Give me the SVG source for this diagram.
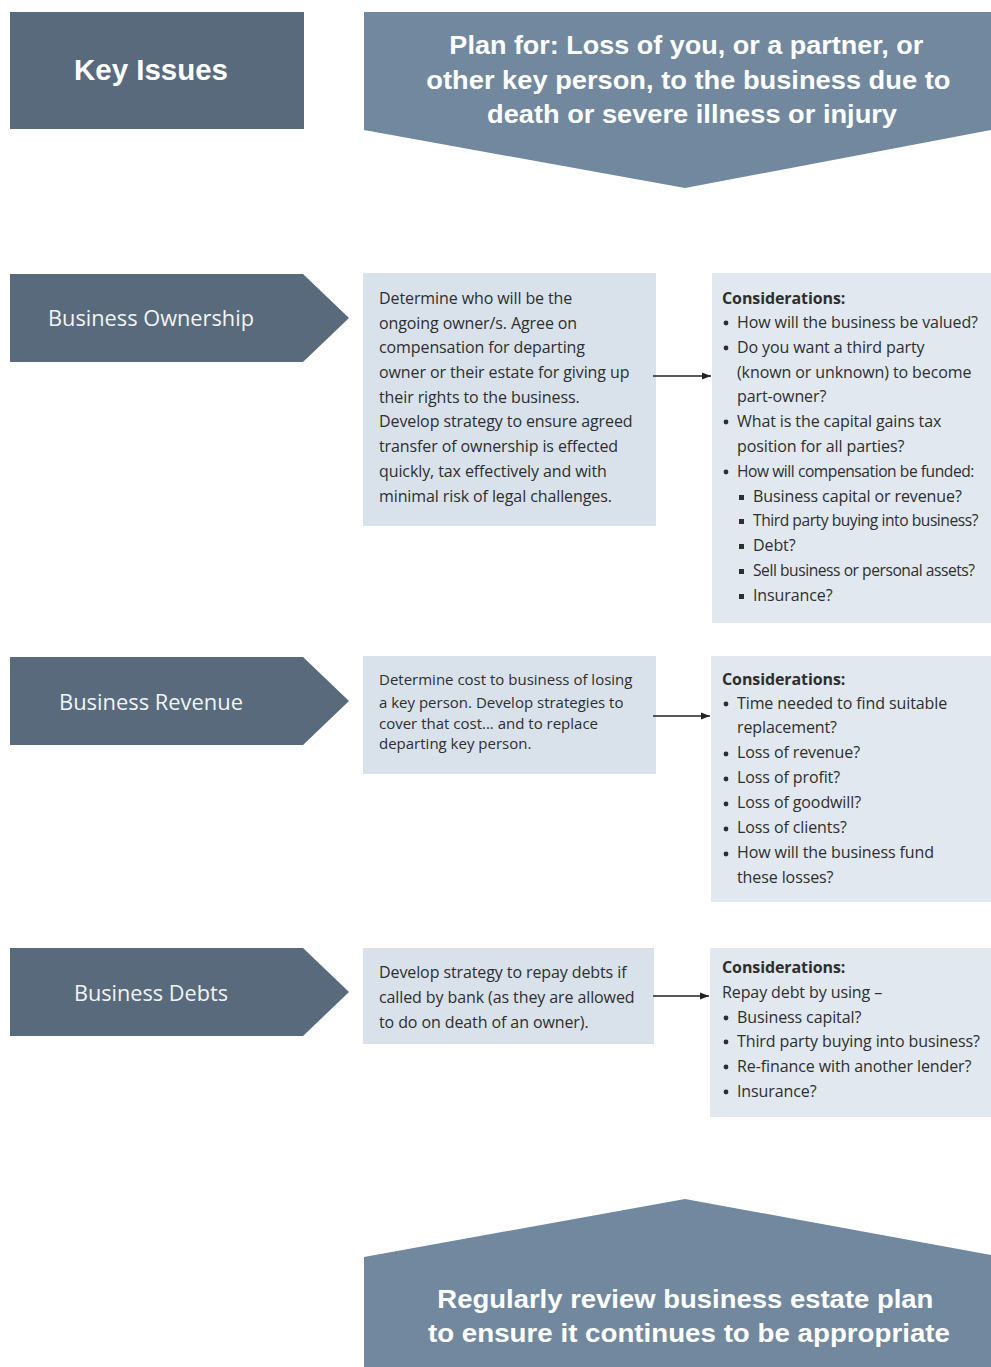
<svg xmlns="http://www.w3.org/2000/svg" width="991" height="1367" viewBox="0 0 991 1367">
  <defs>
    <style>
      .dark { fill: #586a7b; }
      .mid { fill: #72889f; }
      .desc { fill: #d9e2eb; }
      .cons { fill: #e1e8ef; }
      .hd { font-family: "Liberation Sans", "DejaVu Sans", sans-serif; font-weight: bold; fill: #ffffff; text-anchor: middle; }
      .lbl { font-family: "Open Sans", "Liberation Sans", sans-serif; fill: #f2f4f6; font-size: 22px; text-anchor: middle; }
      .body { font-family: "Open Sans", "Liberation Sans", sans-serif; fill: #2e2e2e; font-size: 16px; letter-spacing: -0.1px; }
      .tight { font-size: 15px; letter-spacing: 0; }
      .narrow { font-size: 15.6px; letter-spacing: -0.45px; }
      .bold { font-weight: bold; }
      .dot { fill: #2e2e2e; }
      .conn { stroke: #222222; stroke-width: 1.3; fill: none; marker-end: url(#head); }
    </style>
    <marker id="head" viewBox="0 0 10 10" refX="10" refY="5" markerWidth="9" markerHeight="9" markerUnits="userSpaceOnUse" orient="auto">
      <path d="M0,1 L10,5 L0,9 Z" fill="#222222"/>
    </marker>
  </defs>

  <rect width="991" height="1367" fill="#ffffff"/>

  <!-- header row -->
  <g id="key-issues">
    <rect class="dark" x="10" y="12" width="294" height="117"/>
    <text class="hd" x="151" y="80" font-size="30" textLength="154" lengthAdjust="spacingAndGlyphs">Key Issues</text>
  </g>
  <g id="plan-for">
    <path class="mid" d="M364,12 H991 V130 L685,188 L364,130 Z"/>
    <text class="hd" font-size="26">
      <tspan x="690" y="54" textLength="474" lengthAdjust="spacingAndGlyphs">Plan for: Loss of you, or a partner, or</tspan>
      <tspan x="692" y="89" textLength="524" lengthAdjust="spacingAndGlyphs">other key person, to the business due to</tspan>
      <tspan x="692" y="123" textLength="410" lengthAdjust="spacingAndGlyphs">death or severe illness or injury</tspan>
    </text>
  </g>

  <!-- Business Ownership row -->
  <g id="ownership">
    <path class="dark" d="M10,274 H303 L349,318 L303,362 H10 Z"/>
    <text class="lbl" x="151" y="326" textLength="206" lengthAdjust="spacingAndGlyphs">Business Ownership</text>
  </g>
  <g id="ownership-action">
    <rect class="desc" x="363" y="273" width="293" height="253"/>
    <text class="body">
      <tspan x="379" y="304">Determine who will be the</tspan>
      <tspan x="379" y="329">ongoing owner/s. Agree on</tspan>
      <tspan x="379" y="353">compensation for departing</tspan>
      <tspan x="379" y="378">owner or their estate for giving up</tspan>
      <tspan x="379" y="403">their rights to the business.</tspan>
      <tspan x="379" y="427">Develop strategy to ensure agreed</tspan>
      <tspan x="379" y="452">transfer of ownership is effected</tspan>
      <tspan x="379" y="477">quickly, tax effectively and with</tspan>
      <tspan x="379" y="502">minimal risk of legal challenges.</tspan>
    </text>
  </g>
  <g id="ownership-considerations">
    <rect class="cons" x="712" y="273" width="279" height="350"/>
    <g class="dot">
      <circle cx="726" cy="323" r="2.4"/>
      <circle cx="726" cy="348" r="2.4"/>
      <circle cx="726" cy="422" r="2.4"/>
      <circle cx="726" cy="472" r="2.4"/>
      <rect x="739" y="495" width="5" height="5"/>
      <rect x="739" y="519" width="5" height="5"/>
      <rect x="739" y="544" width="5" height="5"/>
      <rect x="739" y="569" width="5" height="5"/>
      <rect x="739" y="594" width="5" height="5"/>
    </g>
    <text class="body">
      <tspan x="722" y="304" class="bold">Considerations:</tspan>
      <tspan x="737" y="328">How will the business be valued?</tspan>
      <tspan x="737" y="353">Do you want a third party</tspan>
      <tspan x="737" y="378">(known or unknown) to become</tspan>
      <tspan x="737" y="402">part-owner?</tspan>
      <tspan x="737" y="427">What is the capital gains tax</tspan>
      <tspan x="737" y="452">position for all parties?</tspan>
    </text>
    <text class="body narrow" x="737" y="477">How will compensation be funded:</text>
    <text class="body" x="753" y="502">Business capital or revenue?</text>
    <text class="body narrow" x="753" y="526">Third party buying into business?</text>
    <text class="body" x="753" y="551">Debt?</text>
    <text class="body narrow" x="753" y="576">Sell business or personal assets?</text>
    <text class="body" x="753" y="601">Insurance?</text>
  </g>

  <!-- Business Revenue row -->
  <g id="revenue">
    <path class="dark" d="M10,657 H303 L349,701 L303,745 H10 Z"/>
    <text class="lbl" x="151" y="710" textLength="184" lengthAdjust="spacingAndGlyphs">Business Revenue</text>
  </g>
  <g id="revenue-action">
    <rect class="desc" x="363" y="656" width="293" height="118"/>
    <text class="body tight">
      <tspan x="379" y="685">Determine cost to business of losing</tspan>
      <tspan x="379" y="708">a key person. Develop strategies to</tspan>
      <tspan x="379" y="729">cover that cost... and to replace</tspan>
      <tspan x="379" y="749">departing key person.</tspan>
    </text>
  </g>
  <g id="revenue-considerations">
    <rect class="cons" x="711" y="656" width="280" height="246"/>
    <g class="dot">
      <circle cx="726" cy="704" r="2.4"/>
      <circle cx="726" cy="754" r="2.4"/>
      <circle cx="726" cy="779" r="2.4"/>
      <circle cx="726" cy="804" r="2.4"/>
      <circle cx="726" cy="829" r="2.4"/>
      <circle cx="726" cy="854" r="2.4"/>
    </g>
    <text class="body">
      <tspan x="722" y="685" class="bold">Considerations:</tspan>
      <tspan x="737" y="709">Time needed to find suitable</tspan>
      <tspan x="737" y="733">replacement?</tspan>
      <tspan x="737" y="758">Loss of revenue?</tspan>
      <tspan x="737" y="783">Loss of profit?</tspan>
      <tspan x="737" y="808">Loss of goodwill?</tspan>
      <tspan x="737" y="833">Loss of clients?</tspan>
      <tspan x="737" y="858">How will the business fund</tspan>
      <tspan x="737" y="883">these losses?</tspan>
    </text>
  </g>

  <!-- Business Debts row -->
  <g id="debts">
    <path class="dark" d="M10,948 H303 L349,992 L303,1036 H10 Z"/>
    <text class="lbl" x="151" y="1001" textLength="154" lengthAdjust="spacingAndGlyphs">Business Debts</text>
  </g>
  <g id="debts-action">
    <rect class="desc" x="363" y="948" width="291" height="96"/>
    <text class="body">
      <tspan x="379" y="978">Develop strategy to repay debts if</tspan>
      <tspan x="379" y="1003">called by bank (as they are allowed</tspan>
      <tspan x="379" y="1028">to do on death of an owner).</tspan>
    </text>
  </g>
  <g id="debts-considerations">
    <rect class="cons" x="710" y="948" width="281" height="169"/>
    <g class="dot">
      <circle cx="726" cy="1018" r="2.4"/>
      <circle cx="726" cy="1042" r="2.4"/>
      <circle cx="726" cy="1067" r="2.4"/>
      <circle cx="726" cy="1092" r="2.4"/>
    </g>
    <text class="body">
      <tspan x="722" y="973" class="bold">Considerations:</tspan>
      <tspan x="722" y="998">Repay debt by using –</tspan>
      <tspan x="737" y="1023">Business capital?</tspan>
      <tspan x="737" y="1047">Third party buying into business?</tspan>
      <tspan x="737" y="1072">Re-finance with another lender?</tspan>
      <tspan x="737" y="1097">Insurance?</tspan>
    </text>
  </g>

  <!-- review banner -->
  <g id="review">
    <path class="mid" d="M364,1257 L685,1199 L991,1255 V1367 H364 Z"/>
    <text class="hd" font-size="26">
      <tspan x="689" y="1308" textLength="496" lengthAdjust="spacingAndGlyphs">Regularly review business estate plan</tspan>
      <tspan x="689" y="1342" textLength="522" lengthAdjust="spacingAndGlyphs">to ensure it continues to be appropriate</tspan>
    </text>
  </g>

  <!-- connectors -->
  <g id="connectors">
    <line class="conn" x1="653" y1="376" x2="711" y2="376"/>
    <line class="conn" x1="653" y1="716" x2="710" y2="716"/>
    <line class="conn" x1="653" y1="996" x2="709" y2="996"/>
  </g>
</svg>
